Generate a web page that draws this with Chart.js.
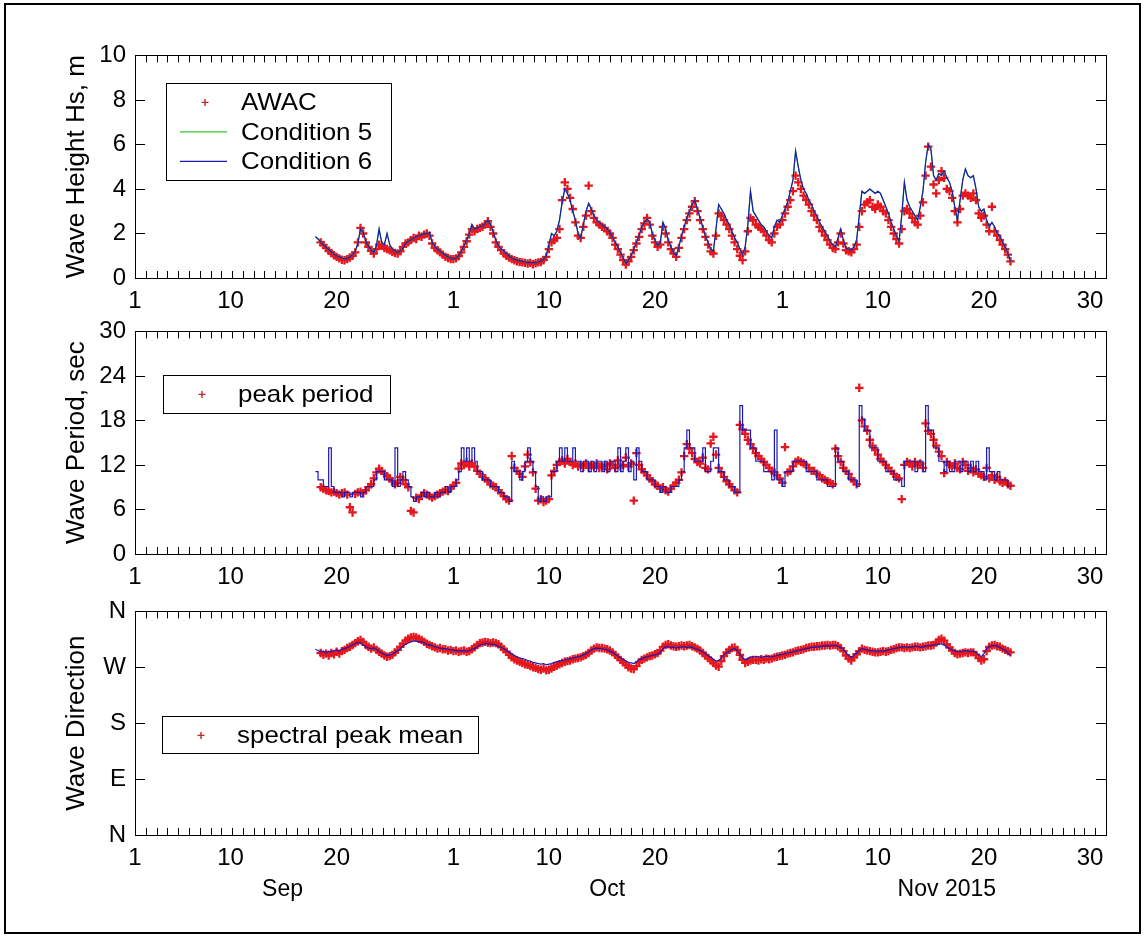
<!DOCTYPE html>
<html>
<head>
<meta charset="utf-8">
<title>Wave conditions, Sep–Nov 2015</title>
<script src="https://cdn.jsdelivr.net/npm/chart.js@4.4.1/dist/chart.umd.min.js"></script>
<style>
  html, body { margin: 0; padding: 0; background: #fff; }
  #fig { position: relative; width: 1146px; height: 938px; overflow: hidden; background: #fff; }
  #frame { position: absolute; left: 4px; top: 3px; width: 1133px; height: 927px; border: 2px solid #000; }
  canvas { position: absolute; left: 0; }
</style>
</head>
<body>
<div id="fig">
  <div id="frame"></div>
  <canvas id="hsPanel" width="1146" height="326" style="top:32px"></canvas>
  <canvas id="tpPanel" width="1146" height="326" style="top:308px"></canvas>
  <canvas id="dirPanel" width="1146" height="327" style="top:588px"></canvas>
</div>
<script>
// Time axis: days since 1 Sep 2015 00:00. Samples every 6 hours from 18 Sep.
const START_DAY = 17;
const STEP = 0.25;

// Date axis tick positions (day offsets) and their day-of-month labels
const dayTicks = [0, 9, 19, 30, 39, 49, 61, 70, 80, 90];
const dayTickLabels = ['1', '10', '20', '1', '10', '20', '1', '10', '20', '30'];
const monthNames = ['Sep', 'Oct', 'Nov 2015'];
const monthCentres = [13.9, 44.5, 76.5];

// Significant wave height, m
const hsAwac = [
  /* Sep 18 */ null, null, 1.6, 1.48,
  /* Sep 19 */ 1.35, 1.22, 1.12, 1.02,
  /* Sep 20 */ 0.95, 0.88, 0.82, 0.8,
  /* Sep 21 */ 0.85, 0.92, 1.0, 1.15,
  /* Sep 22 */ 1.6, 2.25, 2.0, 1.6,
  /* Sep 23 */ 1.4, 1.22, 1.1, 1.3,
  /* Sep 24 */ 1.5, 1.45, 1.35, 1.3,
  /* Sep 25 */ 1.25, 1.18, 1.12, 1.1,
  /* Sep 26 */ 1.2, 1.4, 1.55, 1.6,
  /* Sep 27 */ 1.7, 1.8, 1.75, 1.9,
  /* Sep 28 */ 1.85, 1.95, 2.0, 1.9,
  /* Sep 29 */ 1.55, 1.35, 1.25, 1.15,
  /* Sep 30 */ 1.05, 0.95, 0.9, 0.85,
  /* Oct 1 */ 0.85, 0.88, 0.98, 1.15,
  /* Oct 2 */ 1.4, 1.65, 1.95, 2.2,
  /* Oct 3 */ 2.1, 2.2, 2.25, 2.3,
  /* Oct 4 */ 2.4, 2.55, 2.3, 2.0,
  /* Oct 5 */ 1.6, 1.4, 1.25, 1.1,
  /* Oct 6 */ 1.0, 0.92, 0.85, 0.8,
  /* Oct 7 */ 0.75, 0.72, 0.7, 0.68,
  /* Oct 8 */ 0.65, 0.68, 0.62, 0.66,
  /* Oct 9 */ 0.7, 0.72, 0.8, 0.95,
  /* Oct 10 */ 1.3, 1.6, 1.7, 1.8,
  /* Oct 11 */ 2.2, 3.5, 4.3, 4.0,
  /* Oct 12 */ 3.6, 3.1, 2.5, 1.9,
  /* Oct 13 */ 1.8, 2.3, 2.8, 4.15,
  /* Oct 14 */ 3.0, 2.7, 2.5, 2.4,
  /* Oct 15 */ 2.3, 2.25, 2.1, 2.0,
  /* Oct 16 */ 1.8, 1.5, 1.3, 1.05,
  /* Oct 17 */ 0.8, 0.6, 0.75, 0.95,
  /* Oct 18 */ 1.25, 1.55, 1.85, 2.2,
  /* Oct 19 */ 2.45, 2.7, 2.4, 1.9,
  /* Oct 20 */ 1.6, 1.4, 1.5, 2.3,
  /* Oct 21 */ 2.0, 1.6, 1.3, 1.1,
  /* Oct 22 */ 0.95, 1.35, 1.8, 2.2,
  /* Oct 23 */ 2.6, 2.9, 3.2, 3.45,
  /* Oct 24 */ 3.0, 2.6, 2.2, 1.85,
  /* Oct 25 */ 1.5, 1.2, 1.1, 1.9,
  /* Oct 26 */ 2.9, 2.8, 2.6, 2.4,
  /* Oct 27 */ 2.2, 1.9, 1.6, 1.3,
  /* Oct 28 */ 1.0, 0.8, 1.2, 2.1,
  /* Oct 29 */ 2.7, 2.6, 2.4, 2.3,
  /* Oct 30 */ 2.2, 2.1, 1.9, 1.7,
  /* Oct 31 */ 1.6, 2.0, 2.3, 2.4,
  /* Nov 1 */ 2.6, 2.9, 3.2, 3.5,
  /* Nov 2 */ 3.9, 4.6, 4.3, 4.0,
  /* Nov 3 */ 3.7, 3.5, 3.3, 3.0,
  /* Nov 4 */ 2.8, 2.6, 2.3, 2.1,
  /* Nov 5 */ 1.9, 1.7, 1.5, 1.35,
  /* Nov 6 */ 1.3, 1.6, 2.0, 1.55,
  /* Nov 7 */ 1.25, 1.2, 1.15, 1.3,
  /* Nov 8 */ 1.5, 2.3, 3.0, 3.3,
  /* Nov 9 */ 3.4, 3.5, 3.2, 3.1,
  /* Nov 10 */ 3.3, 3.2, 3.0, 2.9,
  /* Nov 11 */ 2.6, 2.3, 2.0, 1.75,
  /* Nov 12 */ 1.55, 2.2, 3.0, 3.1,
  /* Nov 13 */ 2.9, 2.7, 2.5, 2.4,
  /* Nov 14 */ 2.8, 3.4, 4.6, 5.9,
  /* Nov 15 */ 5.0, 4.2, 3.8, 4.4,
  /* Nov 16 */ 4.8, 4.5, 4.0, 3.9,
  /* Nov 17 */ 3.6, 3.0, 2.5, 3.1,
  /* Nov 18 */ 3.7, 3.8, 3.7, 3.6,
  /* Nov 19 */ 3.8, 3.5, 2.9, 2.7,
  /* Nov 20 */ 2.8, 2.4, 2.1, 3.2,
  /* Nov 21 */ 2.1, 1.9, 1.7, 1.5,
  /* Nov 22 */ 1.3, 1.05, 0.75
];

const hsCond6 = [
  /* Sep 18 */ 1.85, 1.75, 1.62, 1.5,
  /* Sep 19 */ 1.38, 1.28, 1.18, 1.08,
  /* Sep 20 */ 1.0, 0.95, 0.9, 0.86,
  /* Sep 21 */ 0.88, 0.95, 1.05, 1.2,
  /* Sep 22 */ 1.55, 2.2, 2.05, 1.65,
  /* Sep 23 */ 1.42, 1.25, 1.15, 1.45,
  /* Sep 24 */ 2.2, 1.6, 1.5, 2.0,
  /* Sep 25 */ 1.5, 1.3, 1.2, 1.15,
  /* Sep 26 */ 1.22, 1.35, 1.55, 1.65,
  /* Sep 27 */ 1.72, 1.8, 1.85, 1.9,
  /* Sep 28 */ 1.95, 2.0, 1.98, 2.05,
  /* Sep 29 */ 1.6, 1.42, 1.3, 1.2,
  /* Sep 30 */ 1.1, 1.02, 0.95, 0.9,
  /* Oct 1 */ 0.85, 0.9, 1.0, 1.2,
  /* Oct 2 */ 1.45, 1.7, 2.0, 2.4,
  /* Oct 3 */ 2.2, 2.25, 2.3, 2.35,
  /* Oct 4 */ 2.45, 2.6, 2.4, 2.1,
  /* Oct 5 */ 1.7, 1.45, 1.3, 1.2,
  /* Oct 6 */ 1.1, 1.0, 0.9, 0.85,
  /* Oct 7 */ 0.8, 0.78, 0.75, 0.72,
  /* Oct 8 */ 0.7, 0.7, 0.68, 0.7,
  /* Oct 9 */ 0.72, 0.78, 0.85, 1.0,
  /* Oct 10 */ 1.5, 2.0, 1.9, 2.1,
  /* Oct 11 */ 2.6, 3.4, 4.0, 3.8,
  /* Oct 12 */ 3.5, 3.0, 2.6, 2.0,
  /* Oct 13 */ 1.8, 2.4, 3.0, 3.35,
  /* Oct 14 */ 3.1, 2.8, 2.6, 2.5,
  /* Oct 15 */ 2.4, 2.3, 2.2, 2.05,
  /* Oct 16 */ 1.85, 1.6, 1.4, 1.15,
  /* Oct 17 */ 0.9, 0.65, 0.8, 1.0,
  /* Oct 18 */ 1.3, 1.6, 1.9, 2.3,
  /* Oct 19 */ 2.5, 2.65, 2.5, 2.0,
  /* Oct 20 */ 1.7, 1.45, 1.6, 2.5,
  /* Oct 21 */ 2.2, 1.7, 1.4, 1.15,
  /* Oct 22 */ 1.0, 1.4, 1.9, 2.3,
  /* Oct 23 */ 2.7, 3.0, 3.3, 3.5,
  /* Oct 24 */ 3.1, 2.7, 2.3, 1.9,
  /* Oct 25 */ 1.6, 1.3, 1.2, 2.2,
  /* Oct 26 */ 3.3, 3.1, 2.9, 2.6,
  /* Oct 27 */ 2.4, 2.1, 1.8, 1.6,
  /* Oct 28 */ 1.3, 1.05, 1.4, 2.4,
  /* Oct 29 */ 3.9, 3.0, 2.8, 2.6,
  /* Oct 30 */ 2.4, 2.3, 2.1, 1.9,
  /* Oct 31 */ 1.8, 2.3, 2.6, 2.5,
  /* Nov 1 */ 2.8, 3.1, 3.4, 3.9,
  /* Nov 2 */ 4.4, 5.7, 5.0, 4.4,
  /* Nov 3 */ 4.0, 3.8, 3.5, 3.3,
  /* Nov 4 */ 3.0, 2.8, 2.5, 2.3,
  /* Nov 5 */ 2.1, 1.9, 1.65, 1.5,
  /* Nov 6 */ 1.4, 1.8, 2.2, 1.7,
  /* Nov 7 */ 1.35, 1.3, 1.25, 1.4,
  /* Nov 8 */ 1.7, 2.8, 3.9, 3.8,
  /* Nov 9 */ 3.9, 4.0, 3.9, 3.8,
  /* Nov 10 */ 3.9, 3.8, 3.5, 3.2,
  /* Nov 11 */ 2.9, 2.5, 2.2, 1.9,
  /* Nov 12 */ 1.65, 2.8, 4.3, 3.5,
  /* Nov 13 */ 3.2, 3.0, 2.8, 2.6,
  /* Nov 14 */ 3.2, 3.9, 5.2, 6.0,
  /* Nov 15 */ 5.8, 4.6, 4.4, 4.7,
  /* Nov 16 */ 4.6, 4.8, 4.5, 4.3,
  /* Nov 17 */ 3.9, 3.2, 2.6, 3.5,
  /* Nov 18 */ 4.4, 4.9, 4.6, 4.5,
  /* Nov 19 */ 4.6, 4.0, 3.2, 3.0,
  /* Nov 20 */ 3.1, 2.6, 2.3, 2.5,
  /* Nov 21 */ 2.3, 2.0, 1.9, 1.6,
  /* Nov 22 */ 1.4, 1.1, 0.75
];
// Condition 5 runs within a line width of Condition 6 at this scale
const hsCond5 = hsCond6;

// Peak wave period, s
const tpAwac = [
  /* Sep 18 */ null, null, 9.0, 8.8,
  /* Sep 19 */ 8.6, 8.5, 8.3, 8.4,
  /* Sep 20 */ 8.2, 8.0, 8.2, 8.3,
  /* Sep 21 */ 8.0, 6.3, 5.6, 8.1,
  /* Sep 22 */ 8.3, 8.4, 8.2, 8.6,
  /* Sep 23 */ 9.0, 9.4, 10.2, 11.0,
  /* Sep 24 */ 11.5, 11.2, 10.8, 10.5,
  /* Sep 25 */ 10.2, 9.8, 9.4, 9.6,
  /* Sep 26 */ 10.4, 10.0, 9.4, 9.0,
  /* Sep 27 */ 5.8, 5.6, 7.6, 7.4,
  /* Sep 28 */ 7.9, 8.2, 8.0, 7.8,
  /* Sep 29 */ 7.6, 7.8, 8.0, 8.2,
  /* Sep 30 */ 8.4, 8.6, 8.5, 8.9,
  /* Oct 1 */ 9.2, 9.6, 11.5, 12.2,
  /* Oct 2 */ 12.0, 12.4, 11.8, 12.2,
  /* Oct 3 */ 11.8, 11.2, 10.8, 10.4,
  /* Oct 4 */ 10.2, 9.8, 9.4, 9.2,
  /* Oct 5 */ 9.0, 8.6, 8.2, 7.8,
  /* Oct 6 */ 7.4, 7.2, 13.2, 11.6,
  /* Oct 7 */ 11.2, 10.8, 10.4, 11.8,
  /* Oct 8 */ 13.4, 12.4, 11.0, 8.8,
  /* Oct 9 */ 7.2, 7.4, 7.0, 7.2,
  /* Oct 10 */ 7.4, 10.6, 11.2, 12.0,
  /* Oct 11 */ 12.4, 12.6, 12.2, 12.8,
  /* Oct 12 */ 12.4, 12.0, 12.2, 11.8,
  /* Oct 13 */ 12.0, 11.8, 12.2, 11.6,
  /* Oct 14 */ 12.0, 11.8, 12.2, 11.6,
  /* Oct 15 */ 11.8, 12.0, 11.4, 12.2,
  /* Oct 16 */ 12.0, 11.6, 12.6, 11.8,
  /* Oct 17 */ 12.0, 13.0, 11.8, 12.2,
  /* Oct 18 */ 7.2, 13.6, 12.0, 11.4,
  /* Oct 19 */ 11.0, 10.6, 10.2, 9.8,
  /* Oct 20 */ 9.4, 9.2, 8.8, 9.0,
  /* Oct 21 */ 8.6, 8.4, 8.8, 9.2,
  /* Oct 22 */ 9.6, 10.0, 11.0, 13.2,
  /* Oct 23 */ 14.8, 14.2, 13.6, 12.8,
  /* Oct 24 */ 12.4, 12.2, 13.0, 11.6,
  /* Oct 25 */ 11.4, 14.9, 15.8, 13.4,
  /* Oct 26 */ 11.6, 11.0, 10.4, 9.8,
  /* Oct 27 */ 9.4, 9.0, 8.6, 8.3,
  /* Oct 28 */ 17.4, 16.8, 16.2, 15.4,
  /* Oct 29 */ 14.8, 14.2, 13.6, 13.2,
  /* Oct 30 */ 12.8, 12.4, 12.0, 11.6,
  /* Oct 31 */ 11.2, 11.0, 10.6, 10.2,
  /* Nov 1 */ 9.6, 14.4, 11.0, 11.2,
  /* Nov 2 */ 11.8, 12.4, 12.6, 12.4,
  /* Nov 3 */ 12.2, 12.0, 11.6, 11.2,
  /* Nov 4 */ 11.2, 10.8, 10.6, 10.2,
  /* Nov 5 */ 10.0, 9.8, 9.6, 9.4,
  /* Nov 6 */ 14.2, 13.2, 12.4, 11.6,
  /* Nov 7 */ 11.2, 10.8, 10.2, 9.8,
  /* Nov 8 */ 9.4, 22.4, 18.0, 17.2,
  /* Nov 9 */ 16.6, 15.4, 14.6, 14.0,
  /* Nov 10 */ 13.4, 12.8, 12.4, 12.0,
  /* Nov 11 */ 11.6, 11.2, 10.8, 10.4,
  /* Nov 12 */ 10.2, 7.4, 12.0, 12.4,
  /* Nov 13 */ 12.2, 11.8, 12.4, 12.0,
  /* Nov 14 */ 12.2, 11.6, 17.6, 16.6,
  /* Nov 15 */ 16.2, 15.4, 14.6, 13.8,
  /* Nov 16 */ 13.2, 10.9, 12.4, 12.0,
  /* Nov 17 */ 11.8, 12.2, 11.6, 11.4,
  /* Nov 18 */ 12.4, 12.0, 11.2, 11.6,
  /* Nov 19 */ 11.0, 11.4, 10.8, 10.6,
  /* Nov 20 */ 10.4, 11.6, 10.2, 10.6,
  /* Nov 21 */ 10.0, 10.4, 9.8, 9.6,
  /* Nov 22 */ 9.8, 9.4, 9.2
];

const tpCond6 = [
  /* Sep 18 */ 11.1, 10.0, 10.0, 9.1,
  /* Sep 19 */ 9.1, 14.3, 9.1, 8.3,
  /* Sep 20 */ 8.3, 8.3, 7.7, 8.3,
  /* Sep 21 */ 8.3, 7.7, 8.3, 8.3,
  /* Sep 22 */ 8.3, 7.7, 8.3, 9.1,
  /* Sep 23 */ 9.1, 9.1, 10.0, 11.1,
  /* Sep 24 */ 11.1, 11.1, 10.0, 10.0,
  /* Sep 25 */ 10.0, 9.1, 14.3, 9.1,
  /* Sep 26 */ 10.0, 11.1, 10.0, 9.1,
  /* Sep 27 */ 7.7, 7.1, 7.7, 7.7,
  /* Sep 28 */ 8.3, 7.7, 8.3, 7.7,
  /* Sep 29 */ 7.7, 8.3, 7.7, 8.3,
  /* Sep 30 */ 8.3, 9.1, 8.3, 9.1,
  /* Oct 1 */ 9.1, 10.0, 11.1, 14.3,
  /* Oct 2 */ 12.5, 14.3, 12.5, 14.3,
  /* Oct 3 */ 12.5, 11.1, 11.1, 10.0,
  /* Oct 4 */ 10.0, 10.0, 9.1, 9.1,
  /* Oct 5 */ 9.1, 8.3, 8.3, 7.7,
  /* Oct 6 */ 7.7, 7.1, 12.5, 11.1,
  /* Oct 7 */ 11.1, 10.0, 11.1, 12.5,
  /* Oct 8 */ 14.3, 12.5, 11.1, 9.1,
  /* Oct 9 */ 7.1, 7.7, 7.1, 7.7,
  /* Oct 10 */ 7.7, 11.1, 11.1, 12.5,
  /* Oct 11 */ 14.3, 12.5, 14.3, 12.5,
  /* Oct 12 */ 12.5, 14.3, 12.5, 12.5,
  /* Oct 13 */ 11.1, 12.5, 12.5, 11.1,
  /* Oct 14 */ 12.5, 11.1, 12.5, 12.5,
  /* Oct 15 */ 11.1, 12.5, 11.1, 12.5,
  /* Oct 16 */ 12.5, 11.1, 14.3, 11.1,
  /* Oct 17 */ 12.5, 14.3, 11.1, 12.5,
  /* Oct 18 */ 10.0, 14.3, 12.5, 11.1,
  /* Oct 19 */ 11.1, 10.0, 10.0, 10.0,
  /* Oct 20 */ 9.1, 9.1, 8.3, 9.1,
  /* Oct 21 */ 8.3, 8.3, 9.1, 9.1,
  /* Oct 22 */ 9.1, 10.0, 11.1, 14.3,
  /* Oct 23 */ 16.7, 14.3, 14.3, 12.5,
  /* Oct 24 */ 12.5, 12.5, 14.3, 11.1,
  /* Oct 25 */ 11.1, 12.5, 14.3, 14.3,
  /* Oct 26 */ 11.1, 11.1, 10.0, 10.0,
  /* Oct 27 */ 9.1, 9.1, 8.3, 8.3,
  /* Oct 28 */ 20.0, 16.7, 16.7, 16.7,
  /* Oct 29 */ 14.3, 14.3, 12.5, 12.5,
  /* Oct 30 */ 12.5, 11.1, 11.1, 11.1,
  /* Oct 31 */ 10.0, 16.7, 10.0, 10.0,
  /* Nov 1 */ 9.1, 11.1, 11.1, 11.1,
  /* Nov 2 */ 12.5, 12.5, 12.5, 12.5,
  /* Nov 3 */ 12.5, 11.1, 11.1, 11.1,
  /* Nov 4 */ 11.1, 10.0, 10.0, 10.0,
  /* Nov 5 */ 10.0, 9.1, 9.1, 9.1,
  /* Nov 6 */ 14.3, 12.5, 12.5, 11.1,
  /* Nov 7 */ 11.1, 10.0, 10.0, 10.0,
  /* Nov 8 */ 9.1, 20.0, 18.2, 16.7,
  /* Nov 9 */ 16.7, 14.3, 14.3, 14.3,
  /* Nov 10 */ 12.5, 12.5, 12.5, 11.1,
  /* Nov 11 */ 11.1, 11.1, 10.0, 10.0,
  /* Nov 12 */ 10.0, 9.1, 12.5, 12.5,
  /* Nov 13 */ 12.5, 12.5, 11.1, 12.5,
  /* Nov 14 */ 12.5, 11.1, 20.0, 16.7,
  /* Nov 15 */ 16.7, 14.3, 14.3, 12.5,
  /* Nov 16 */ 12.5, 11.1, 12.5, 11.1,
  /* Nov 17 */ 11.1, 12.5, 12.5, 11.1,
  /* Nov 18 */ 12.5, 12.5, 11.1, 12.5,
  /* Nov 19 */ 11.1, 12.5, 11.1, 11.1,
  /* Nov 20 */ 10.0, 14.3, 11.1, 11.1,
  /* Nov 21 */ 10.0, 11.1, 10.0, 10.0,
  /* Nov 22 */ 10.0, 9.1, 9.1
];

// Spectral peak mean direction, degrees from north
const dirAwac = [
  /* Sep 18 */ null, null, 293, 290,
  /* Sep 19 */ 292, 289, 293, 291,
  /* Sep 20 */ 295, 292, 296, 298,
  /* Sep 21 */ 301, 303, 306, 309,
  /* Sep 22 */ 312, 314, 311, 306,
  /* Sep 23 */ 303, 300, 302, 298,
  /* Sep 24 */ 295, 292, 289, 287,
  /* Sep 25 */ 288, 290, 294, 298,
  /* Sep 26 */ 303, 308, 313, 316,
  /* Sep 27 */ 318, 319, 318, 316,
  /* Sep 28 */ 314, 311, 308, 306,
  /* Sep 29 */ 304, 302, 300, 301,
  /* Sep 30 */ 299, 299, 297, 298,
  /* Oct 1 */ 296, 297, 295, 296,
  /* Oct 2 */ 297, 295, 296, 299,
  /* Oct 3 */ 302, 306, 309, 310,
  /* Oct 4 */ 311, 310, 309, 310,
  /* Oct 5 */ 309, 307, 303, 299,
  /* Oct 6 */ 295, 290, 286, 283,
  /* Oct 7 */ 281, 279, 277, 275,
  /* Oct 8 */ 274, 272, 270, 269,
  /* Oct 9 */ 267, 266, 268, 265,
  /* Oct 10 */ 266, 268, 271, 273,
  /* Oct 11 */ 275, 277, 279, 280,
  /* Oct 12 */ 281, 283, 284, 285,
  /* Oct 13 */ 286, 288, 290, 293,
  /* Oct 14 */ 297, 300, 302, 301,
  /* Oct 15 */ 301, 300, 299, 297,
  /* Oct 16 */ 294, 290, 286, 282,
  /* Oct 17 */ 278, 274, 270, 268,
  /* Oct 18 */ 267, 272, 278, 282,
  /* Oct 19 */ 284, 286, 288, 289,
  /* Oct 20 */ 291, 293, 297, 303,
  /* Oct 21 */ 306, 307, 305, 304,
  /* Oct 22 */ 303, 304, 305, 304,
  /* Oct 23 */ 305, 306, 304, 302,
  /* Oct 24 */ 300, 297, 293, 289,
  /* Oct 25 */ 285, 281, 277, 273,
  /* Oct 26 */ 271, 280, 288, 294,
  /* Oct 27 */ 298, 301, 302, 298,
  /* Oct 28 */ 290, 282, 277, 279,
  /* Oct 29 */ 281, 282, 282, 281,
  /* Oct 30 */ 283, 282, 284, 283,
  /* Oct 31 */ 284, 286, 287, 288,
  /* Nov 1 */ 289, 290, 292, 293,
  /* Nov 2 */ 294, 296, 297, 298,
  /* Nov 3 */ 299, 301, 302, 303,
  /* Nov 4 */ 303, 304, 304, 305,
  /* Nov 5 */ 305, 306, 305, 306,
  /* Nov 6 */ 306, 304, 301, 296,
  /* Nov 7 */ 289, 284, 281, 286,
  /* Nov 8 */ 291, 296, 300, 298,
  /* Nov 9 */ 297, 296, 295, 294,
  /* Nov 10 */ 294, 295, 296, 295,
  /* Nov 11 */ 296, 298, 299, 301,
  /* Nov 12 */ 302, 302, 301, 302,
  /* Nov 13 */ 301, 302, 303, 303,
  /* Nov 14 */ 302, 303, 304, 305,
  /* Nov 15 */ 305, 306, 310, 314,
  /* Nov 16 */ 316, 313, 307, 302,
  /* Nov 17 */ 297, 293, 291, 292,
  /* Nov 18 */ 293, 294, 293, 294,
  /* Nov 19 */ 294, 290, 285, 281,
  /* Nov 20 */ 283, 296, 303, 305,
  /* Nov 21 */ 306, 304, 303, 300,
  /* Nov 22 */ 298, 296, 294
];

const dirCond6 = [
  /* Sep 18 */ 299, 297, 295, 296,
  /* Sep 19 */ 293, 296, 295, 297,
  /* Sep 20 */ 298, 296, 299, 300,
  /* Sep 21 */ 302, 304, 306, 308,
  /* Sep 22 */ 310, 309, 306, 303,
  /* Sep 23 */ 301, 300, 301, 299,
  /* Sep 24 */ 296, 293, 291, 289,
  /* Sep 25 */ 290, 291, 294, 297,
  /* Sep 26 */ 300, 304, 307, 309,
  /* Sep 27 */ 311, 312, 312, 311,
  /* Sep 28 */ 311, 309, 307, 306,
  /* Sep 29 */ 305, 303, 302, 301,
  /* Sep 30 */ 300, 300, 299, 298,
  /* Oct 1 */ 298, 297, 297, 296,
  /* Oct 2 */ 297, 296, 297, 299,
  /* Oct 3 */ 300, 303, 306, 307,
  /* Oct 4 */ 308, 308, 307, 307,
  /* Oct 5 */ 306, 304, 302, 300,
  /* Oct 6 */ 297, 294, 292, 289,
  /* Oct 7 */ 287, 285, 284, 283,
  /* Oct 8 */ 281, 280, 278, 277,
  /* Oct 9 */ 276, 275, 276, 274,
  /* Oct 10 */ 275, 276, 278, 279,
  /* Oct 11 */ 280, 281, 282, 283,
  /* Oct 12 */ 284, 285, 286, 287,
  /* Oct 13 */ 288, 290, 292, 295,
  /* Oct 14 */ 298, 300, 301, 300,
  /* Oct 15 */ 300, 299, 298, 296,
  /* Oct 16 */ 294, 291, 288, 285,
  /* Oct 17 */ 283, 280, 278, 277,
  /* Oct 18 */ 276, 279, 282, 284,
  /* Oct 19 */ 286, 287, 288, 289,
  /* Oct 20 */ 290, 291, 294, 300,
  /* Oct 21 */ 303, 303, 302, 302,
  /* Oct 22 */ 301, 302, 303, 303,
  /* Oct 23 */ 302, 303, 302, 300,
  /* Oct 24 */ 299, 297, 295, 292,
  /* Oct 25 */ 289, 286, 283, 280,
  /* Oct 26 */ 281, 285, 290, 293,
  /* Oct 27 */ 296, 299, 300, 297,
  /* Oct 28 */ 291, 285, 282, 284,
  /* Oct 29 */ 286, 287, 287, 287,
  /* Oct 30 */ 286, 287, 288, 287,
  /* Oct 31 */ 287, 288, 289, 290,
  /* Nov 1 */ 291, 292, 293, 294,
  /* Nov 2 */ 295, 296, 297, 298,
  /* Nov 3 */ 299, 300, 301, 302,
  /* Nov 4 */ 302, 303, 303, 304,
  /* Nov 5 */ 304, 305, 304, 305,
  /* Nov 6 */ 305, 304, 302, 299,
  /* Nov 7 */ 293, 289, 286, 289,
  /* Nov 8 */ 293, 297, 300, 299,
  /* Nov 9 */ 298, 297, 297, 296,
  /* Nov 10 */ 296, 296, 297, 297,
  /* Nov 11 */ 298, 299, 300, 301,
  /* Nov 12 */ 302, 303, 303, 303,
  /* Nov 13 */ 302, 303, 304, 304,
  /* Nov 14 */ 302, 303, 304, 305,
  /* Nov 15 */ 305, 306, 307, 307,
  /* Nov 16 */ 308, 306, 303, 300,
  /* Nov 17 */ 298, 296, 295, 295,
  /* Nov 18 */ 296, 297, 296, 296,
  /* Nov 19 */ 296, 294, 290, 287,
  /* Nov 20 */ 292, 300, 303, 305,
  /* Nov 21 */ 305, 304, 302, 300,
  /* Nov 22 */ 297, 293, 289
];

const compassLabels = ['N', 'E', 'S', 'W', 'N'];

// ---- styling ----
const FONT = '"Liberation Sans", Arial, Helvetica, sans-serif';
const RED = '#e5161c';
const BLUE = '#1a1ab4';
const GREEN = '#35c435';
const X_MIN = 0, X_MAX = 91.5, X_DIVISIONS = 90;
const PAD_TOP = 20, AXIS_W = 135, RIGHT_GAP = 40, XAXIS_H = 80;

Chart.defaults.font.family = FONT;
Chart.defaults.color = '#000';

function toPoints(values) {
  const pts = [];
  values.forEach((v, i) => {
    if (v !== null) pts.push({ x: START_DAY + i * STEP, y: v });
  });
  return pts;
}

function awacSet(values) {
  return {
    data: toPoints(values), showLine: false, order: 3,
    pointStyle: 'cross', pointRadius: 4.2, pointBorderWidth: 2.3,
    pointBorderColor: RED, pointBackgroundColor: RED, borderColor: RED
  };
}

function modelSet(values, colour, order, stepped) {
  return {
    data: toPoints(values), showLine: true, order: order, stepped: stepped || false,
    borderColor: colour, borderWidth: 1.2, pointRadius: 0, tension: 0, fill: false
  };
}

// Frame, inward ticks, rotated y title, legend box and month labels
const panelDeco = {
  id: 'panelDeco',
  afterDraw(chart, args, o) {
    const { ctx, chartArea: a, scales: { x, y } } = chart;
    ctx.save();
    ctx.strokeStyle = '#000';
    ctx.lineWidth = 1;
    ctx.beginPath();
    for (let k = 0; k <= X_DIVISIONS; k++) {
      const px = Math.round(x.getPixelForValue(x.min + k * (x.max - x.min) / X_DIVISIONS)) + 0.5;
      ctx.moveTo(px, a.bottom); ctx.lineTo(px, a.bottom - 7);
      ctx.moveTo(px, a.top); ctx.lineTo(px, a.top + 7);
    }
    y.ticks.forEach(t => {
      const py = Math.round(y.getPixelForValue(t.value)) + 0.5;
      ctx.moveTo(a.left, py); ctx.lineTo(a.left + 10, py);
      ctx.moveTo(a.right, py); ctx.lineTo(a.right - 10, py);
    });
    ctx.stroke();
    ctx.strokeRect(Math.round(a.left) + 0.5, Math.round(a.top) + 0.5,
                   Math.round(a.right - a.left), Math.round(a.bottom - a.top));

    // y-axis title
    ctx.fillStyle = '#000';
    ctx.font = '26px ' + FONT;
    ctx.textAlign = 'center';
    ctx.textBaseline = 'middle';
    ctx.translate(77, (a.top + a.bottom) / 2);
    ctx.rotate(-Math.PI / 2);
    ctx.fillText(o.title, 0, 0);
    ctx.setTransform(1, 0, 0, 1, 0, 0);

    // legend
    const L = o.legend;
    const bx = a.left + L.dx, by = a.top + L.dy;
    ctx.fillStyle = '#fff';
    ctx.fillRect(bx, by, L.w, L.h);
    ctx.strokeRect(Math.round(bx) + 0.5, Math.round(by) + 0.5, L.w, L.h);
    L.rows.forEach((row, i) => {
      const cy = by + 19 + i * 29.5;
      ctx.beginPath();
      if (row.kind === 'marker') {
        ctx.strokeStyle = '#c0282c'; ctx.lineWidth = 1.4;
        ctx.moveTo(bx + 35.5, cy); ctx.lineTo(bx + 42.5, cy);
        ctx.moveTo(bx + 39, cy - 3.5); ctx.lineTo(bx + 39, cy + 3.5);
      } else {
        ctx.strokeStyle = row.colour; ctx.lineWidth = 1.2;
        ctx.moveTo(bx + 14, cy); ctx.lineTo(bx + 61, cy);
      }
      ctx.stroke();
      ctx.save();
      ctx.fillStyle = '#000';
      ctx.font = '24px ' + FONT;
      ctx.textAlign = 'left';
      ctx.textBaseline = 'middle';
      ctx.translate(bx + 75, cy + 1);
      ctx.scale(1.08, 1);
      ctx.fillText(row.text, 0, 0);
      ctx.restore();
    });

    // month names under the last panel
    if (o.months) {
      ctx.fillStyle = '#000';
      ctx.font = '23px ' + FONT;
      ctx.textAlign = 'center';
      ctx.textBaseline = 'middle';
      monthNames.forEach((m, i) => {
        ctx.fillText(m, x.getPixelForValue(monthCentres[i]), a.bottom + 55);
      });
    }
    ctx.restore();
  }
};

function makePanel(id, cfg) {
  return new Chart(document.getElementById(id), {
    type: 'line',
    data: { datasets: cfg.datasets },
    plugins: [panelDeco],
    options: {
      responsive: false,
      animation: false,
      events: [],
      layout: { padding: { top: PAD_TOP, right: RIGHT_GAP, left: 0, bottom: 0 } },
      plugins: {
        legend: { display: false },
        tooltip: { enabled: false },
        panelDeco: { title: cfg.title, legend: cfg.legend, months: !!cfg.months }
      },
      scales: {
        x: {
          type: 'linear', min: X_MIN, max: X_MAX,
          afterFit: s => { s.height = XAXIS_H; },
          afterBuildTicks: s => { s.ticks = dayTicks.map(v => ({ value: v })); },
          ticks: {
            autoSkip: false, maxRotation: 0, minRotation: 0, padding: 9,
            font: { size: 24 }, color: '#000',
            callback: v => dayTickLabels[dayTicks.indexOf(v)]
          },
          grid: { display: false, drawTicks: false },
          border: { display: false }
        },
        y: {
          type: 'linear', min: cfg.yMin, max: cfg.yMax,
          afterFit: s => { s.width = AXIS_W; },
          ticks: {
            stepSize: cfg.yStep, padding: 9, font: { size: 24 }, color: '#000',
            callback: cfg.yLabel
          },
          grid: { display: false, drawTicks: false },
          border: { display: false }
        }
      }
    }
  });
}

makePanel('hsPanel', {
  yMin: 0, yMax: 10, yStep: 2, yLabel: v => String(v),
  title: 'Wave Height Hs, m',
  datasets: [
    awacSet(hsAwac),
    modelSet(hsCond5, GREEN, 2),
    modelSet(hsCond6, BLUE, 1)
  ],
  legend: {
    dx: 31, dy: 28, w: 225, h: 97,
    rows: [
      { kind: 'marker', text: 'AWAC' },
      { kind: 'line', colour: GREEN, text: 'Condition 5' },
      { kind: 'line', colour: BLUE, text: 'Condition 6' }
    ]
  }
});

makePanel('tpPanel', {
  yMin: 0, yMax: 30, yStep: 6, yLabel: v => String(v),
  title: 'Wave Period, sec',
  datasets: [
    awacSet(tpAwac),
    modelSet(tpCond6, BLUE, 1, true)
  ],
  legend: { dx: 28, dy: 44, w: 227, h: 38, rows: [{ kind: 'marker', text: 'peak period' }] }
});

makePanel('dirPanel', {
  yMin: 0, yMax: 360, yStep: 90, yLabel: v => compassLabels[Math.round(v / 90)],
  title: 'Wave Direction',
  months: true,
  datasets: [
    awacSet(dirAwac),
    modelSet(dirCond6, BLUE, 1)
  ],
  legend: { dx: 27, dy: 105, w: 316, h: 37, rows: [{ kind: 'marker', text: 'spectral peak mean' }] }
});
</script>
</body>
</html>
